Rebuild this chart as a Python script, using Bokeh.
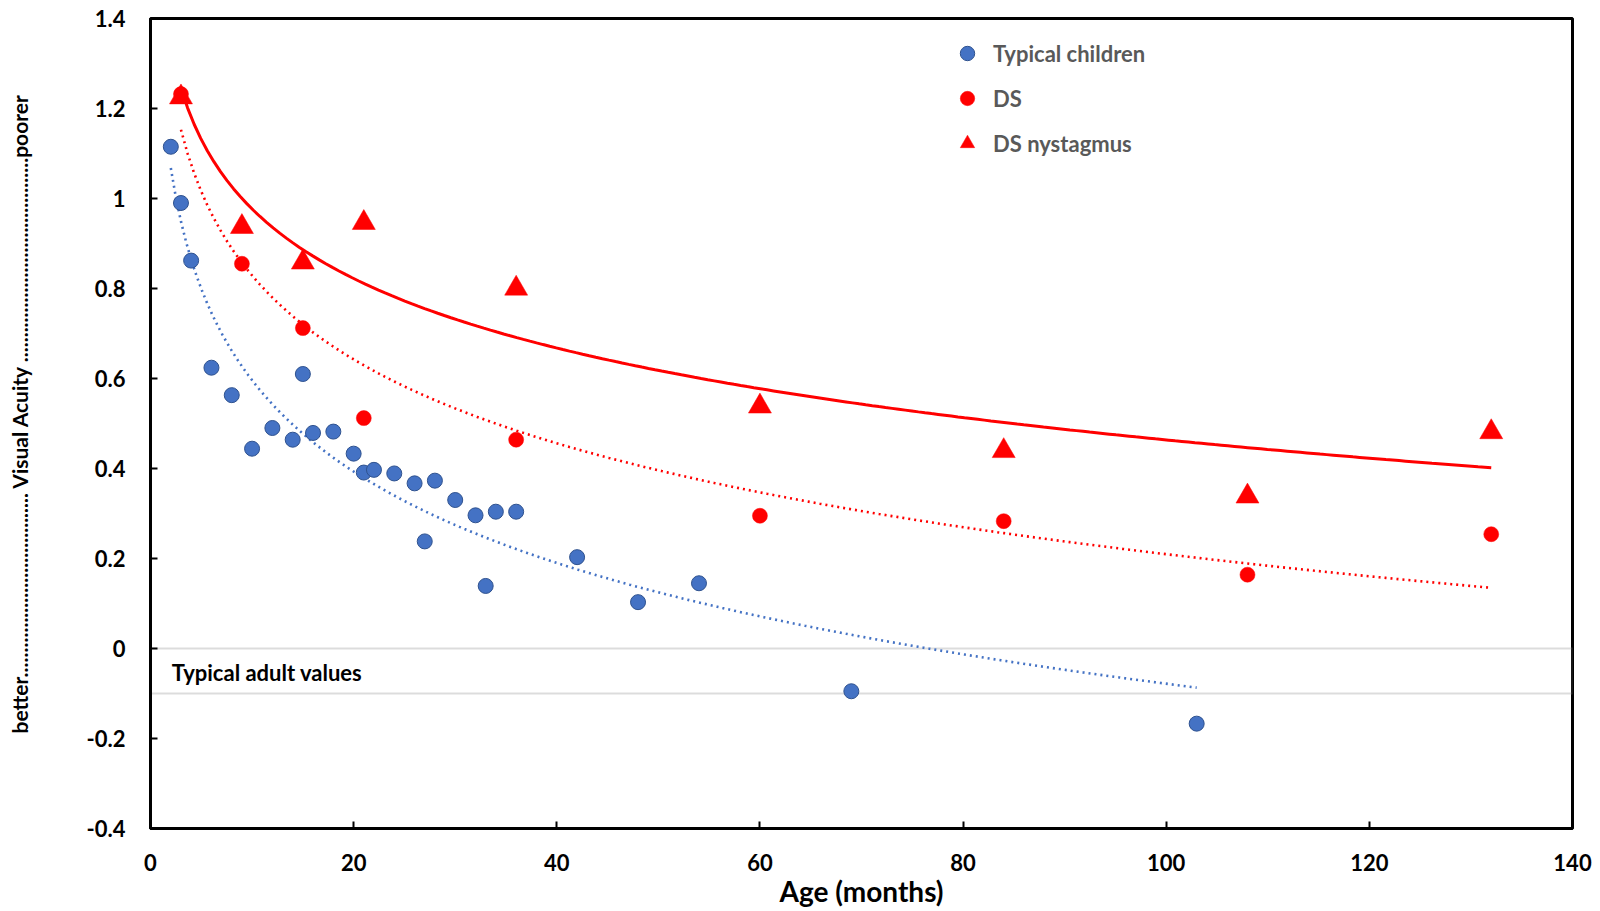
import numpy as np
from bokeh.plotting import figure
from bokeh.models import (Range1d, FixedTicker, Legend, LegendItem, Label,
                          BoxAnnotation)
from bokeh.embed import file_html
from bokeh.resources import INLINE

# ---------------- data ----------------
typ_age = [2, 3, 4, 6, 8, 10, 12, 14, 15, 16, 18, 20, 21, 22, 24, 26, 27, 28,
           30, 32, 33, 34, 36, 42, 48, 54, 69, 103]
typ_va = [1.115, 0.990, 0.862, 0.624, 0.563, 0.444, 0.490, 0.464, 0.610, 0.479,
          0.482, 0.433, 0.391, 0.397, 0.389, 0.367, 0.238, 0.373, 0.330, 0.296,
          0.139, 0.304, 0.304, 0.203, 0.103, 0.145, -0.095, -0.167]

ds_age = [3, 9, 15, 21, 36, 60, 84, 108, 132]
ds_va = [1.232, 0.855, 0.712, 0.512, 0.464, 0.295, 0.283, 0.164, 0.254]

nys_age = [3, 9, 15, 21, 36, 60, 84, 108, 132]
nys_va = [1.225, 0.937, 0.858, 0.946, 0.800, 0.538, 0.439, 0.338, 0.481]

adult_band = [-0.1, 0.0]          # typical adult values (logMAR)
adult_label = "Typical adult values"

x_ticks = [0, 20, 40, 60, 80, 100, 120, 140]
x_tick_labels = ["0", "20", "40", "60", "80", "100", "120", "140"]
y_ticks = [-0.4, -0.2, 0.0, 0.2, 0.4, 0.6, 0.8, 1.0, 1.2, 1.4]
y_tick_labels = ["-0.4", "-0.2", "0", "0.2", "0.4", "0.6", "0.8", "1", "1.2", "1.4"]

x_title = "Age (months)"
y_title = ("\u00a0" * 4 + "better" + "." * 37 + " Visual Acuity "
           + "." * 41 + "poorer")

BLUE = "#4472C4"
BLUE_EDGE = "#2F528F"
RED = "#FF0000"
FONT = "Lato"


# logarithmic trendlines (least-squares fit of y = a + b ln x, like Excel)
def log_trend(xs, ys, n=200):
    xs = np.asarray(xs, float)
    ys = np.asarray(ys, float)
    b, a = np.polyfit(np.log(xs), ys, 1)
    gx = np.linspace(xs.min(), xs.max(), n)
    return gx, a + b * np.log(gx)


typ_tx, typ_ty = log_trend(typ_age, typ_va)
ds_tx, ds_ty = log_trend(ds_age, ds_va)
nys_tx, nys_ty = log_trend(nys_age, nys_va)

# ---------------- figure ----------------
p = figure(width=1600, height=911, output_backend="svg", toolbar_location=None,
           x_range=Range1d(0, 140), y_range=Range1d(-0.4, 1.4),
           min_border_left=150, min_border_right=28, min_border_top=18,
           min_border_bottom=83)
p.background_fill_color = "white"
p.border_fill_color = "white"
p.xgrid.visible = False
p.ygrid.visible = False
p.outline_line_color = "black"
p.outline_line_width = 3

# adult band
p.add_layout(BoxAnnotation(bottom=adult_band[0], top=adult_band[1],
                           fill_alpha=0, line_color="#8C8C8C", line_width=2,
                           level="underlay"))
p.add_layout(Label(x=2.1, y=sum(adult_band) / 2 - 0.003, text=adult_label,
                   text_font=FONT, text_font_style="bold",
                   text_font_size="22px", text_color="black",
                   text_baseline="middle", text_align="left"))

# trendlines
p.line(typ_tx, typ_ty, line_color=BLUE, line_width=2.6, line_dash="2 4")
p.line(ds_tx, ds_ty, line_color=RED, line_width=2.6, line_dash="2 4")
p.line(nys_tx, nys_ty, line_color=RED, line_width=3)

# points
r_typ = p.scatter(typ_age, typ_va, marker="circle", size=15,
                  fill_color=BLUE, line_color=BLUE_EDGE, line_width=1)
r_ds = p.scatter(ds_age, ds_va, marker="circle", size=15,
                 fill_color=RED, line_color=RED, line_width=0.5)
r_nys = p.scatter(nys_age, nys_va, marker="triangle", size=23,
                  fill_color=RED, line_color=RED, line_width=0.5)

# axes
for ax in (p.xaxis, p.yaxis):
    ax.axis_line_color = "black"
    ax.axis_line_width = 3
    ax.major_tick_in = 7
    ax.major_tick_out = 0
    ax.major_tick_line_width = 2
    ax.major_tick_line_color = "black"
    ax.minor_tick_line_color = None
    ax.major_label_text_font = FONT
    ax.major_label_text_font_style = "bold"
    ax.major_label_text_font_size = "22px"
    ax.major_label_text_color = "black"

p.xaxis.ticker = FixedTicker(ticks=x_ticks)
p.xaxis.major_label_overrides = dict(zip(x_ticks, x_tick_labels))
p.xaxis.major_label_standoff = 25
p.yaxis.ticker = FixedTicker(ticks=y_ticks)
p.yaxis.major_label_overrides = dict(zip(y_ticks, y_tick_labels))
p.yaxis.major_label_standoff = 25

p.xaxis.axis_label = x_title
p.xaxis.axis_label_text_font = FONT
p.xaxis.axis_label_text_font_style = "bold"
p.xaxis.axis_label_text_font_size = "28px"
p.xaxis.axis_label_text_color = "black"
p.xaxis.axis_label_standoff = 0

p.yaxis.axis_label = y_title
p.yaxis.axis_label_text_font = FONT
p.yaxis.axis_label_text_font_style = "bold"
p.yaxis.axis_label_text_font_size = "21px"
p.yaxis.axis_label_text_color = "black"
p.yaxis.axis_label_standoff = 52

# legend
legend = Legend(items=[LegendItem(label="Typical children", renderers=[r_typ]),
                       LegendItem(label="DS", renderers=[r_ds]),
                       LegendItem(label="DS nystagmus", renderers=[r_nys])],
                location=(799, 667), orientation="vertical",
                glyph_width=36, glyph_height=36, label_height=20,
                spacing=9, padding=0, margin=0, label_standoff=8,
                border_line_color=None, background_fill_alpha=0,
                label_text_font=FONT, label_text_font_style="bold",
                label_text_font_size="22px", label_text_color="#595959")
p.add_layout(legend)

open("out.html", "w").write(file_html(p, INLINE))
